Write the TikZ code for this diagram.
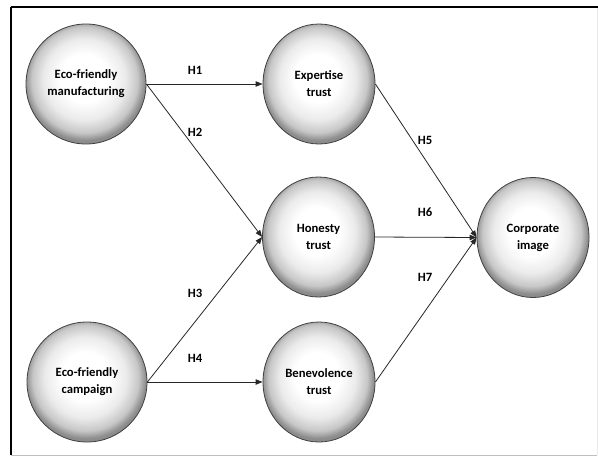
\documentclass[tikz,border=0pt]{standalone}
\usepackage{fontspec}
\setmainfont{Carlito}
\usetikzlibrary{arrows.meta,shapes.geometric}

\pgfdeclareradialshading{sphere}{\pgfpoint{-1bp}{3bp}}{color(0bp)=(white); color(10bp)=(white); color(17bp)=(white!92!black); color(22bp)=(white!78!black); color(25bp)=(white!55!black); color(50bp)=(white!55!black)}

\tikzset{every picture/.style={line width=0.75pt}}
\tikzset{
  construct/.style={ellipse, draw=black!75, line width=0.6pt, shading=sphere, minimum width=84pt, minimum height=90pt, inner sep=0pt, align=center, font=\bfseries\fontsize{9.5}{12.75}\selectfont},
  hyp/.style={draw=black!85, line width=0.6pt, -{Triangle[length=5.2pt,width=4pt]}},
  hlabel/.style={font=\bfseries\fontsize{9.5}{11}\selectfont, inner sep=0.75pt}
}

\begin{document}
\begin{tikzpicture}[x=0.75pt,y=0.75pt,yscale=-1,xscale=1]
\useasboundingbox (0,0) rectangle (598,457);

%Shape: Frame
\draw [black!25, line width=0.6pt] (11,455) -- (597,455) ;
\draw [black!8, line width=0.6pt] (597,7) -- (597,455) ;
\draw [line width=1.1pt] (11,455) -- (11,7) ;
\draw [line width=1.6pt] (10.5,7) -- (598,7) ;

%Shape: Circle
\node [construct, minimum width=90pt] (mfg) at (86,84) {Eco-friendly\\manufacturing};
%Shape: Circle
\node [construct, minimum width=90pt] (cmp) at (87,382) {Eco-friendly\\campaign};
%Shape: Circle
\node [construct] (exp) at (319,84) {Expertise\\trust};
%Shape: Circle
\node [construct] (hon) at (318.5,237) {Honesty\\trust};
%Shape: Circle
\node [construct] (ben) at (319,382) {Benevolence\\trust};
%Shape: Circle
\node [construct] (img) at (533,237.5) {Corporate\\image};

%Straight Lines
\draw [hyp] (mfg.east) -- (exp.west) ;
\draw [hyp] (mfg.east) -- (hon.west) ;
\draw [hyp] (cmp.east) -- (hon.west) ;
\draw [hyp] (cmp.east) -- (ben.west) ;
\draw [hyp] (exp.east) -- (img.west) ;
\draw [hyp] (hon.east) -- (img.west) ;
\draw [hyp] (ben.east) -- (img.west) ;

% Text Node
\node [hlabel] (h1) at (195,70) {H1};
% Text Node
\node [hlabel] (h2) at (195,132) {H2};
% Text Node
\node [hlabel] (h3) at (195,293) {H3};
% Text Node
\node [hlabel] (h4) at (195,358) {H4};
% Text Node
\node [hlabel] (h5) at (425,140) {H5};
% Text Node
\node [hlabel] (h6) at (425,212) {H6};
% Text Node
\node [hlabel] (h7) at (425,277) {H7};

\end{tikzpicture}
\end{document}
